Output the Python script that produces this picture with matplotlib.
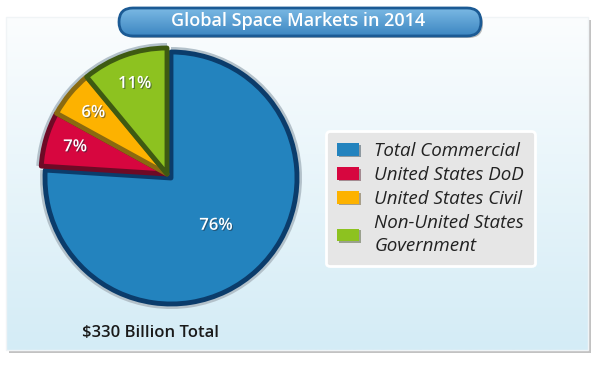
import matplotlib
matplotlib.use("Agg")
import matplotlib.pyplot as plt
import matplotlib.patheffects as pe
import numpy as np
from matplotlib.patches import FancyBboxPatch, Rectangle, Patch

# chart data
labels = ["Total Commercial", "United States DoD", "United States Civil",
          "Non-United States\nGovernment"]
shares = [76, 7, 6, 11]
colors = ["#2383BE", "#D7063F", "#FDB200", "#8DC220"]
edges = ["#0B3C6B", "#6E0A26", "#8A6A10", "#3E5A12"]
title = "Global Space Markets in 2014"
total_label = "$330 Billion Total"

W, H = 600, 372
fig = plt.figure(figsize=(6, 3.72), dpi=100)
ax = fig.add_axes([0, 0, 1, 1])


def py(y):
    # pixel row (top down) -> data y (bottom up)
    return H - y


# background panel with drop shadow and vertical gradient
ax.add_patch(Rectangle((9, py(353)), 582, 333, facecolor="#9a9a9a", edgecolor="none", alpha=0.6, zorder=0))
panel = Rectangle((6, py(350)), 582, 333, facecolor="none", edgecolor="#f0f4f6", lw=1, zorder=1)
ax.add_patch(panel)
grad = np.linspace(0, 1, 256).reshape(-1, 1)
bg = ax.imshow(grad, cmap=matplotlib.colors.LinearSegmentedColormap.from_list("bg", ["#D4ECF6", "#FBFDFE"]),
               extent=(6, 588, py(350), py(17)), origin="lower", aspect="auto", zorder=0.5)
bg.set_clip_path(panel)

# pie
cx, cy, r = 171, py(178), 126
shift = (-4, 4)

ring, _ = ax.pie(shares, colors=["#B3C1CA"] * 4, startangle=90, counterclock=False,
                 center=(cx, cy), radius=r + 5, wedgeprops=dict(linewidth=0))
wedges, _, autotexts = ax.pie(shares, colors=colors, startangle=90, counterclock=False,
                              center=(cx, cy), radius=r, autopct="%d%%", pctdistance=0.76,
                              wedgeprops=dict(linewidth=3.5, joinstyle="round"),
                              textprops=dict(color="white", fontsize=12, fontweight="semibold",
                                             family="Open Sans"))
for w, e in zip(wedges, edges):
    w.set_edgecolor(e)
for i in range(1, len(shares)):
    wedges[i].set_center((cx + shift[0], cy + shift[1]))
    ring[i].set_center((cx + shift[0], cy + shift[1]))
    x, y = autotexts[i].get_position()
    autotexts[i].set_position((x + shift[0], y + shift[1]))
x, y = autotexts[0].get_position()
autotexts[0].set_position((cx + (x - cx) * 0.52 / 0.76, cy + (y - cy) * 0.52 / 0.76))
for t in autotexts:
    t.set_path_effects([pe.withSimplePatchShadow(offset=(0.8, -0.8), shadow_rgbFace="#203040", alpha=0.5)])

ax.text(151, py(333), total_label, ha="center", va="center", fontsize=12,
        fontweight="semibold", family="Open Sans", color="#1a1a1a")

# title banner
ax.add_patch(FancyBboxPatch((124, py(35)), 356, 22, boxstyle="round,pad=3,rounding_size=14",
                            facecolor="#777777", edgecolor="none", alpha=0.5, zorder=3))
banner = FancyBboxPatch((122, py(33)), 356, 22, boxstyle="round,pad=3,rounding_size=14",
                        facecolor="none", edgecolor="#1B5A94", lw=2, zorder=5)
ax.add_patch(banner)
bgrad = ax.imshow(grad, cmap=matplotlib.colors.LinearSegmentedColormap.from_list("tb", ["#3A84C0", "#7DBBE5"]),
                  extent=(118, 482, py(37), py(7)), origin="lower", aspect="auto", zorder=4)
bgrad.set_clip_path(banner)
ax.text(298, py(21), title, ha="center", va="center", color="white", fontsize=13,
        fontweight="semibold", family="Open Sans", zorder=6)

# legend
handles = [Patch(facecolor=c, edgecolor="none",
                 path_effects=[pe.SimplePatchShadow(offset=(1, -1), alpha=0.4), pe.Normal()])
           for c in colors]
leg = fig.legend(handles, labels, loc="upper left", bbox_to_anchor=(326 / W, 1 - 131 / H),
                 frameon=True, fancybox=True, facecolor="#E6E6E6", edgecolor="white",
                 framealpha=1, prop=dict(family="Open Sans", style="italic", size=13.5),
                 handlelength=1.17, handleheight=0.64, labelspacing=0.32, borderpad=0.6,
                 handletextpad=0.8, borderaxespad=0)
leg.get_frame().set_linewidth(2)
for t in leg.get_texts():
    t.set_color("#222222")
    t.set_linespacing(1.35)

ax.set_xlim(0, W)
ax.set_ylim(0, H)
ax.set_aspect("auto")
ax.axis("off")

fig.savefig("out.png", dpi=100, facecolor="white")
